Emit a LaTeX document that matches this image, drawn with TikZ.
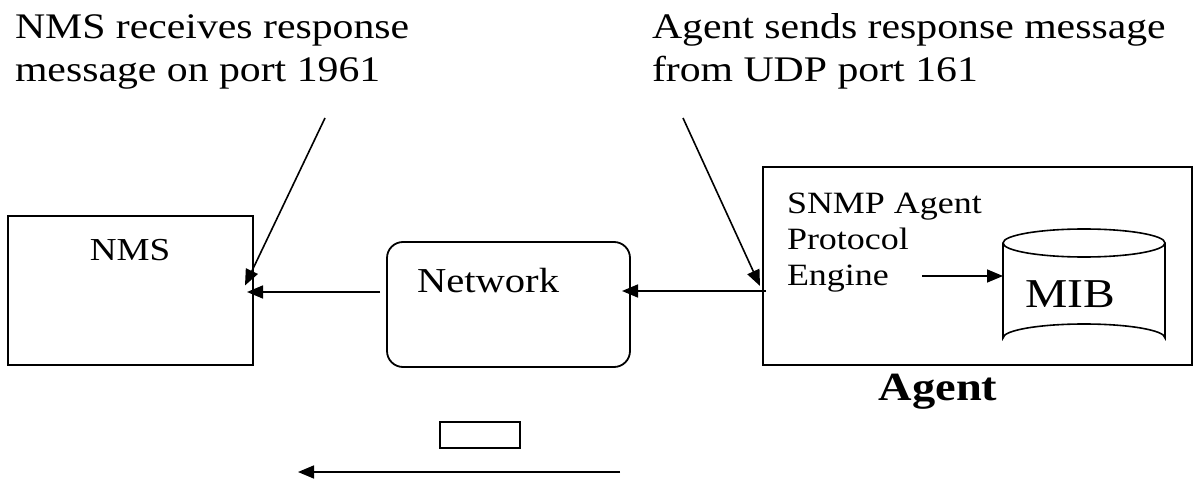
\documentclass[tikz,border=0pt]{standalone}
\usepackage{fontspec}
\setmainfont{Liberation Serif}[FakeStretch=1.16]
\usetikzlibrary{arrows.meta,calc}
\tikzset{
  box/.style={draw, line width=1.8pt, inner sep=0pt, outer sep=0pt},
  rbox/.style={box, rounded corners=16pt},
  lbl/.style={inner sep=0pt, outer sep=0pt, align=left},
  conn/.style={line width=1.6pt, -{Triangle[length=16pt,width=13pt]}},
}
\begin{document}
\begin{tikzpicture}[x=1pt,y=-1pt]
\useasboundingbox (0,0) rectangle (1194,481);
% top captions (anchor = baseline of last line)
\node[lbl, anchor=base west, font=\fontsize{36}{43}\selectfont] (t1) at (15,82) {NMS receives response\\message on port 1961};
\node[lbl, anchor=base west, font=\fontsize{36}{43}\selectfont] (t2) at (652,82) {Agent sends response message\\from UDP port 161};
% boxes
\node[box, minimum width=245pt, minimum height=149pt] (nms) at (130.5,290.5) {};
\node[lbl, anchor=base, font=\fontsize{32}{38}\selectfont] (nmslbl) at (130,260) {NMS};
\node[rbox, minimum width=243pt, minimum height=125pt] (net) at (508.5,304.5) {};
\node[lbl, anchor=base west, font=\fontsize{35}{42}\selectfont] (netlbl) at (417,292) {Network};
\node[box, minimum width=429pt, minimum height=198pt] (agent) at (977.5,266) {};
\node[lbl, anchor=base west, font=\fontsize{31}{36}\selectfont] (eng) at (787,285) {SNMP Agent\\Protocol\\Engine};
\node[lbl, anchor=base, font=\fontsize{40}{48}\selectfont\bfseries] (agentlbl) at (938,400) {Agent};
% MIB cylinder
\node[inner sep=0pt, outer sep=0pt, minimum width=162pt, minimum height=95pt] (mib) at (1084,290.5) {};
\draw[line width=1.6pt] (mib.north west) -- (mib.south west) arc[start angle=180, end angle=0, x radius=81pt, y radius=14pt] -- (mib.north east);
\draw[line width=1.6pt] (mib.north) ellipse [x radius=81pt, y radius=14pt];
\node[lbl, anchor=base, font=\fontsize{41}{48}\selectfont] (miblbl) at (1070,307) {MIB};
% bottom packet
\node[box, minimum width=80pt, minimum height=26pt] (pkt) at (480,435) {};
% coordinates
\coordinate (p1) at (325,118);
\coordinate (p2) at (683,118);
\coordinate (ya) at (0,292);
\coordinate (yb) at (0,291);
\coordinate (ye) at (0,276);
\coordinate (e1) at (922,276);
\coordinate (b1) at (620,472);
\coordinate (b2) at (298,472);
% connectors
\draw[conn] (p1) -- ($(nms.east)+(-8,-5)$);
\draw[conn] (p2) -- ($(agent.west)+(-3,20)$);
\draw[conn, shorten <=7pt, shorten >=-6pt] (net.west |- ya) -- (nms.east |- ya);
\draw[conn, shorten <=-3pt, shorten >=-8pt] (agent.west |- yb) -- (net.east |- yb);
\draw[conn] (e1) -- (mib.west |- ye);
\draw[conn] (b1) -- (b2);
\end{tikzpicture}
\end{document}
